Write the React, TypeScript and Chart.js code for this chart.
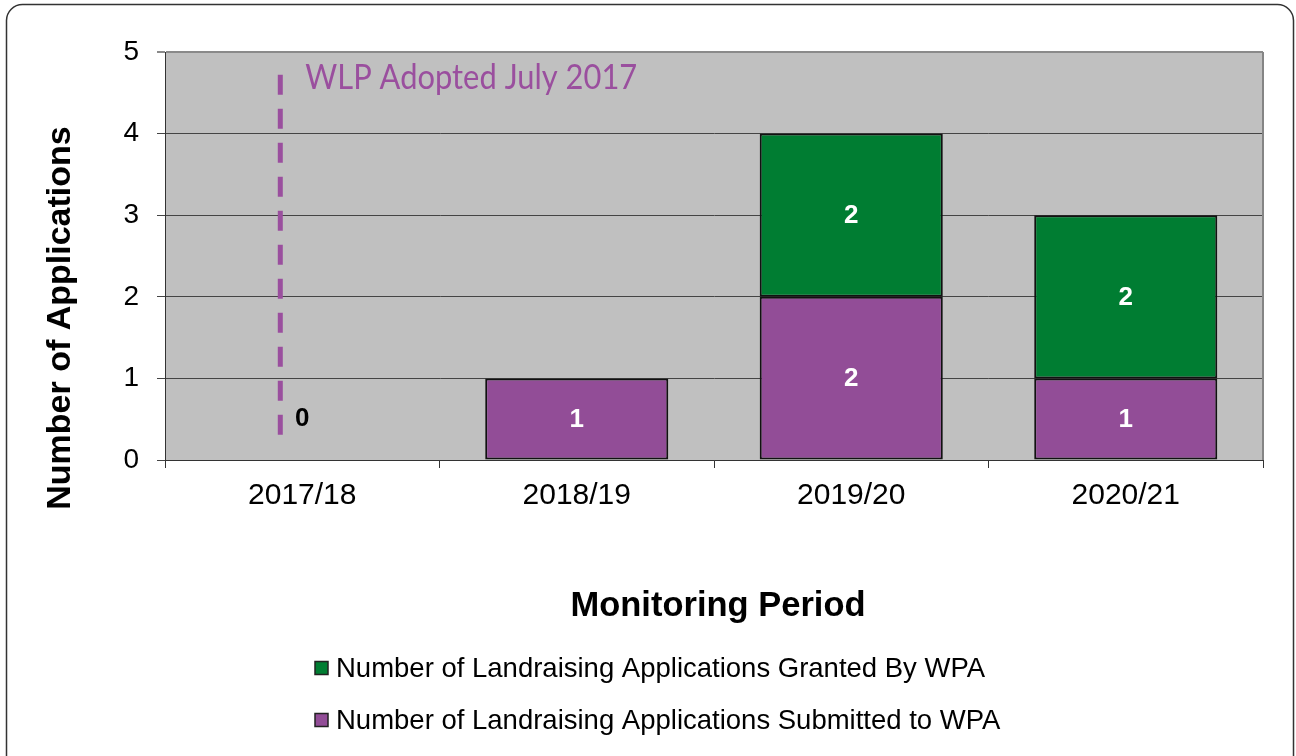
import React, { useEffect, useRef } from "react";
import { Chart, registerables } from "chart.js";

Chart.register(...registerables);

const categories = ["2017/18", "2018/19", "2019/20", "2020/21"];
const submitted = [0, 1, 2, 1];
const granted = [0, 0, 2, 2];
const yTicks = [0, 1, 2, 3, 4, 5];
const submittedLabel = "Number of Landraising Applications Submitted to WPA";
const grantedLabel = "Number of Landraising Applications Granted By WPA";
const yTitle = "Number of Applications";
const xTitle = "Monitoring Period";
const annotationText = "WLP Adopted July 2017";
// annotation position in data units (category index offset, y values)
const annotationX = -0.08;
const annotationYTop = 4.72;
const annotationYBottom = 0.27;

const PURPLE = "#924D97";
const GREEN = "#007D32";
const ANNO = "#9A4F9E";

const framePlugin = {
  id: "frame",
  beforeDraw(chart: any) {
    const { ctx, chartArea: a, width } = chart;
    ctx.save();
    ctx.fillStyle = "#fff";
    ctx.fillRect(0, 0, chart.width, chart.height);
    // rounded outer border
    ctx.strokeStyle = "#333";
    ctx.lineWidth = 1.5;
    const r = 16;
    const l = 6.5, t = 4.5, rr = width - 2.5, b = chart.height + 20;
    ctx.beginPath();
    ctx.moveTo(l, b);
    ctx.lineTo(l, t + r);
    ctx.arcTo(l, t, l + r, t, r);
    ctx.lineTo(rr - r, t);
    ctx.arcTo(rr, t, rr, t + r, r);
    ctx.lineTo(rr, b);
    ctx.stroke();
    // plot background
    ctx.fillStyle = "#C0C0C0";
    ctx.fillRect(a.left, a.top, a.right - a.left, a.bottom - a.top);
    ctx.restore();
  },
  afterDraw(chart: any) {
    const { ctx, chartArea: a } = chart;
    ctx.save();
    ctx.strokeStyle = "#858585";
    ctx.lineWidth = 2;
    ctx.beginPath();
    ctx.moveTo(a.right, a.top);
    ctx.lineTo(a.right, a.bottom);
    ctx.stroke();
    ctx.restore();
  },
};

const overlayPlugin = {
  id: "overlay",
  afterDatasetsDraw(chart: any) {
    const { ctx } = chart;
    const xs = chart.scales.x;
    const ys = chart.scales.y;
    ctx.save();
    // data labels
    ctx.font = "bold 26px 'Liberation Sans', Arial, sans-serif";
    ctx.textAlign = "center";
    ctx.textBaseline = "middle";
    chart.data.datasets.forEach((ds: any, di: number) => {
      const meta = chart.getDatasetMeta(di);
      meta.data.forEach((el: any, i: number) => {
        const v = ds.data[i];
        if (v > 0) {
          ctx.fillStyle = "#fff";
          ctx.fillText(String(v), el.x, (el.y + el.base) / 2 + 1);
        } else if (ds.label === submittedLabel && v === 0) {
          ctx.fillStyle = "#000";
          ctx.fillText("0", el.x, ys.getPixelForValue(0.5));
        }
      });
    });
    // annotation dashed line
    const ax = xs.getPixelForValue(annotationX);
    ctx.strokeStyle = ANNO;
    ctx.lineWidth = 5;
    ctx.setLineDash([20, 14]);
    ctx.beginPath();
    ctx.moveTo(ax, ys.getPixelForValue(annotationYTop));
    ctx.lineTo(ax, ys.getPixelForValue(annotationYBottom));
    ctx.stroke();
    ctx.setLineDash([]);
    ctx.fillStyle = ANNO;
    ctx.font = "34px Lato, 'Open Sans', sans-serif";
    ctx.textAlign = "left";
    ctx.textBaseline = "alphabetic";
    ctx.fillText(annotationText, ax + 25, ys.getPixelForValue(4.55), 332);
    ctx.restore();
  },
  afterDraw(chart: any) {
    const { ctx, chartArea: a } = chart;
    ctx.save();
    ctx.fillStyle = "#000";
    ctx.font = "bold 34.5px 'Liberation Sans', Arial, sans-serif";
    ctx.textAlign = "center";
    ctx.textBaseline = "alphabetic";
    // x title
    ctx.fillText(xTitle, (a.left + a.right) / 2 + 4, 616);
    // y title
    ctx.font = "bold 34px 'Liberation Sans', Arial, sans-serif";
    ctx.save();
    ctx.translate(70, 318);
    ctx.rotate(-Math.PI / 2);
    ctx.fillText(yTitle, 0, 0);
    ctx.restore();
    // legend (reverse order)
    const items = [
      { label: grantedLabel, color: GREEN },
      { label: submittedLabel, color: PURPLE },
    ];
    ctx.font = "27.5px 'Liberation Sans', Arial, sans-serif";
    ctx.textAlign = "left";
    ctx.textBaseline = "middle";
    items.forEach((it, i) => {
      const cy = 668 + i * 52;
      ctx.fillStyle = it.color;
      ctx.fillRect(315, cy - 6.5, 13, 13);
      ctx.strokeStyle = "#222";
      ctx.lineWidth = 1.5;
      ctx.strokeRect(315, cy - 6.5, 13, 13);
      ctx.fillStyle = "#000";
      ctx.fillText(it.label, 336, cy + 1);
    });
    ctx.restore();
  },
};

export default function App() {
  const ref = useRef<HTMLCanvasElement>(null);
  useEffect(() => {
    if (!ref.current) return;
    const barBorder = (c: any) => (c.raw === 0 ? 0 : 2);
    const chart = new Chart(ref.current, {
      type: "bar",
      data: {
        labels: categories,
        datasets: [
          {
            label: submittedLabel,
            data: submitted,
            backgroundColor: PURPLE,
            borderColor: "#111",
            borderWidth: barBorder,
            borderSkipped: false,
            stack: "s",
          },
          {
            label: grantedLabel,
            data: granted,
            backgroundColor: GREEN,
            borderColor: "#111",
            borderWidth: barBorder,
            borderSkipped: false,
            stack: "s",
          },
        ],
      },
      options: {
        animation: false,
        responsive: false,
        maintainAspectRatio: false,
        layout: { padding: { top: 52, right: 33, left: 0, bottom: 0 } },
        datasets: { bar: { categoryPercentage: 1, barPercentage: 0.667 } },
        plugins: {
          legend: { display: false },
          tooltip: { enabled: false },
          title: { display: false },
        },
        scales: {
          x: {
            stacked: true,
            offset: true,
            grid: {
              offset: true,
              drawOnChartArea: false,
              drawTicks: true,
              tickLength: 8,
              color: "#333",
              lineWidth: 1,
            },
            border: { color: "#333", width: 1 },
            ticks: {
              color: "#000",
              padding: 10,
              font: { size: 30, family: "'Liberation Sans', Arial, sans-serif" },
            },
            afterFit: (s: any) => {
              s.height = 296;
            },
          },
          y: {
            stacked: true,
            min: yTicks[0],
            max: yTicks[yTicks.length - 1],
            afterBuildTicks: (s: any) => {
              s.ticks = yTicks.map((v) => ({ value: v }));
            },
            grid: {
              color: (c: any) => (c.tick && c.tick.value === 5 ? "#8a8a8a" : "#444"),
              lineWidth: (c: any) => (c.tick && c.tick.value === 5 ? 2 : 1),
              tickLength: 8,
              drawTicks: true,
            },
            border: { color: "#333", width: 1 },
            ticks: {
              color: "#000",
              padding: 18,
              font: { size: 28, family: "'Liberation Sans', Arial, sans-serif" },
            },
            afterFit: (s: any) => {
              s.width = 165;
            },
          },
        },
      },
      plugins: [framePlugin, overlayPlugin],
    });
    return () => chart.destroy();
  }, []);
  return (
    <div style={{ position: "fixed", left: 0, top: 0, width: 1296, height: 756, background: "#fff" }}>
      <canvas ref={ref} width={1296} height={756} style={{ display: "block", width: 1296, height: 756 }} />
    </div>
  );
}
